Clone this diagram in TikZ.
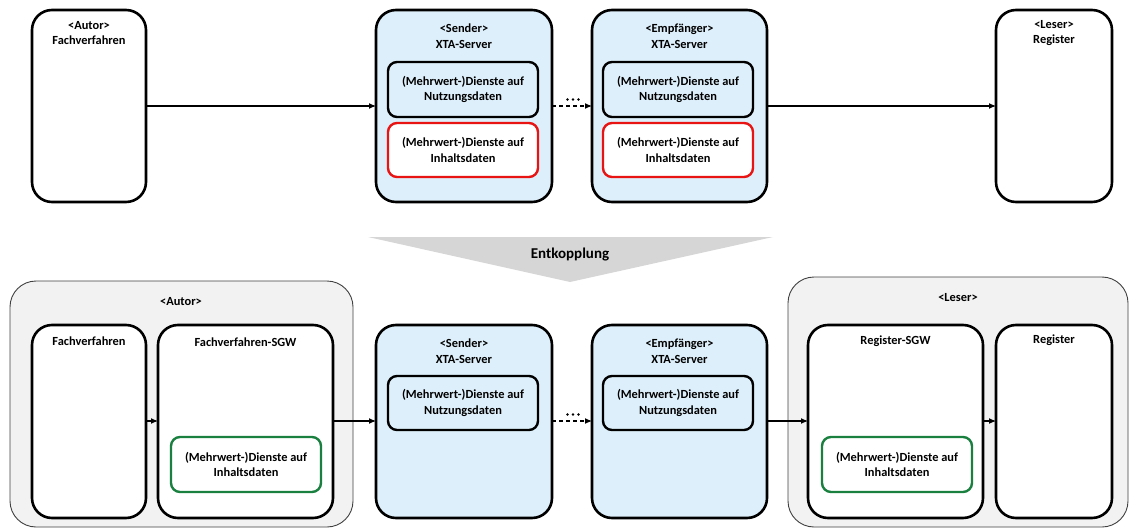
\documentclass[tikz,border=0pt]{standalone}
\usepackage{fontspec}
\setmainfont{Carlito}
\usetikzlibrary{arrows.meta}
\definecolor{srvblue}{RGB}{221,239,250}
\definecolor{grpgray}{RGB}{242,242,242}
\definecolor{chevgray}{RGB}{214,214,214}
\definecolor{dienstred}{RGB}{232,20,20}
\definecolor{dienstgreen}{RGB}{26,128,64}
\tikzset{
  lbl/.style={font=\fontsize{12.4}{15.5}\selectfont\bfseries, align=center},
  sysbox/.style={draw=black, line width=2.6pt, rounded corners=20pt, fill=white},
  srvbox/.style={draw=black, line width=2.6pt, rounded corners=20pt, fill=srvblue},
  grpbox/.style={draw=black!75, line width=0.9pt, rounded corners=26pt, fill=grpgray},
  nutzbox/.style={draw=black, line width=2.4pt, rounded corners=9pt, fill=srvblue},
  inhaltred/.style={draw=dienstred, line width=2.4pt, rounded corners=9pt, fill=white},
  inhaltgreen/.style={draw=dienstgreen, line width=2.4pt, rounded corners=9pt, fill=white},
  flow/.style={line width=1.1pt, -{Latex[length=7pt,width=6pt]}},
  dflow/.style={line width=1.1pt, dash pattern=on 4pt off 3pt, -{Latex[length=7pt,width=6pt]}},
  dot/.style={fill=black, circle, inner sep=0pt, minimum size=2.6pt},
}
\begin{document}
\begin{tikzpicture}[x=1pt,y=-1pt]
\useasboundingbox (0,0) rectangle (1130,532);

% ---------- upper row ----------
\draw[sysbox] (32,10) rectangle (146,202);
\node[lbl] (tAutor) at (89,33) {<Autor>\\Fachverfahren};
\coordinate (tAutorR) at (146,106);

\draw[srvbox] (376,10) rectangle (552,202);
\node[lbl] (tSender) at (464,36) {<Sender>\\XTA-Server};
\draw[nutzbox] (388,62) rectangle (538,117);
\node[lbl] (tSendN) at (463,89.5) {(Mehrwert-)Dienste auf\\Nutzungsdaten};
\draw[inhaltred] (388,123) rectangle (538,177);
\node[lbl] (tSendI) at (463,150) {(Mehrwert-)Dienste auf\\Inhaltsdaten};
\coordinate (tSenderL) at (376,106);
\coordinate (tSenderR) at (552,106);

\draw[srvbox] (592,10) rectangle (767,202);
\node[lbl] (tEmpf) at (679.5,36) {<Empfänger>\\XTA-Server};
\draw[nutzbox] (603,62) rectangle (753,117);
\node[lbl] (tEmpfN) at (678,89.5) {(Mehrwert-)Dienste auf\\Nutzungsdaten};
\draw[inhaltred] (603,123) rectangle (753,177);
\node[lbl] (tEmpfI) at (678,150) {(Mehrwert-)Dienste auf\\Inhaltsdaten};
\coordinate (tEmpfL) at (592,106);
\coordinate (tEmpfR) at (767,106);

\draw[sysbox] (996,10) rectangle (1112,202);
\node[lbl] (tLeser) at (1054,33) {<Leser>\\Register};
\coordinate (tLeserL) at (996,106);

\draw[flow] (tAutorR) -- (tSenderL);
\draw[dflow] (tSenderR) -- (tEmpfL);
\node[dot] (td1) at (567.5,99.5) {};
\node[dot] (td2) at (573,99.5) {};
\node[dot] (td3) at (578.5,99.5) {};
\draw[flow] (tEmpfR) -- (tLeserL);

% ---------- decoupling chevron ----------
\fill[chevgray] (368,237) -- (773,237) -- (570,282) -- cycle;
\node[font=\fontsize{15}{18}\selectfont\bfseries] (entk) at (570,255) {Entkopplung};

% ---------- lower row ----------
\draw[grpbox] (10,281) rectangle (353,527);
\node[lbl] (gAutor) at (181,302) {<Autor>};
\draw[sysbox] (32,325) rectangle (146,518);
\node[lbl] (bFach) at (89,341) {Fachverfahren};
\draw[sysbox] (158,325) rectangle (333,518);
\node[lbl] (bFachSGW) at (245.5,342) {Fachverfahren-SGW};
\draw[inhaltgreen] (171,437) rectangle (321,492);
\node[lbl] (bFachI) at (246,464.5) {(Mehrwert-)Dienste auf\\Inhaltsdaten};

\draw[srvbox] (376,325) rectangle (552,518);
\node[lbl] (bSender) at (464,351) {<Sender>\\XTA-Server};
\draw[nutzbox] (388,376) rectangle (538,430);
\node[lbl] (bSendN) at (463,403) {(Mehrwert-)Dienste auf\\Nutzungsdaten};

\draw[srvbox] (592,325) rectangle (767,518);
\node[lbl] (bEmpf) at (679.5,351) {<Empfänger>\\XTA-Server};
\draw[nutzbox] (603,376) rectangle (753,430);
\node[lbl] (bEmpfN) at (678,403) {(Mehrwert-)Dienste auf\\Nutzungsdaten};

\draw[grpbox] (788,277) rectangle (1128,527);
\node[lbl] (gLeser) at (958,298) {<Leser>};
\draw[sysbox] (808,325) rectangle (983,518);
\node[lbl] (bRegSGW) at (895.5,341) {Register-SGW};
\draw[inhaltgreen] (822,437) rectangle (972,492);
\node[lbl] (bRegI) at (897,464.5) {(Mehrwert-)Dienste auf\\Inhaltsdaten};
\draw[sysbox] (996,325) rectangle (1112,518);
\node[lbl] (bReg) at (1054,340) {Register};

\coordinate (bFachR) at (146,421);
\coordinate (bFachSGWL) at (158,421);
\coordinate (bFachSGWR) at (333,421);
\coordinate (bSenderL) at (376,421);
\coordinate (bSenderR) at (552,421);
\coordinate (bEmpfL) at (592,421);
\coordinate (bEmpfR) at (767,421);
\coordinate (bRegSGWL) at (808,421);
\coordinate (bRegSGWR) at (983,421);
\coordinate (bRegL) at (996,421);

\draw[flow] (bFachR) -- (bFachSGWL);
\draw[flow] (bFachSGWR) -- (bSenderL);
\draw[dflow] (bSenderR) -- (bEmpfL);
\node[dot] (bd1) at (567.5,414.5) {};
\node[dot] (bd2) at (573,414.5) {};
\node[dot] (bd3) at (578.5,414.5) {};
\draw[flow] (bEmpfR) -- (bRegSGWL);
\draw[flow] (bRegSGWR) -- (bRegL);
\end{tikzpicture}
\end{document}
